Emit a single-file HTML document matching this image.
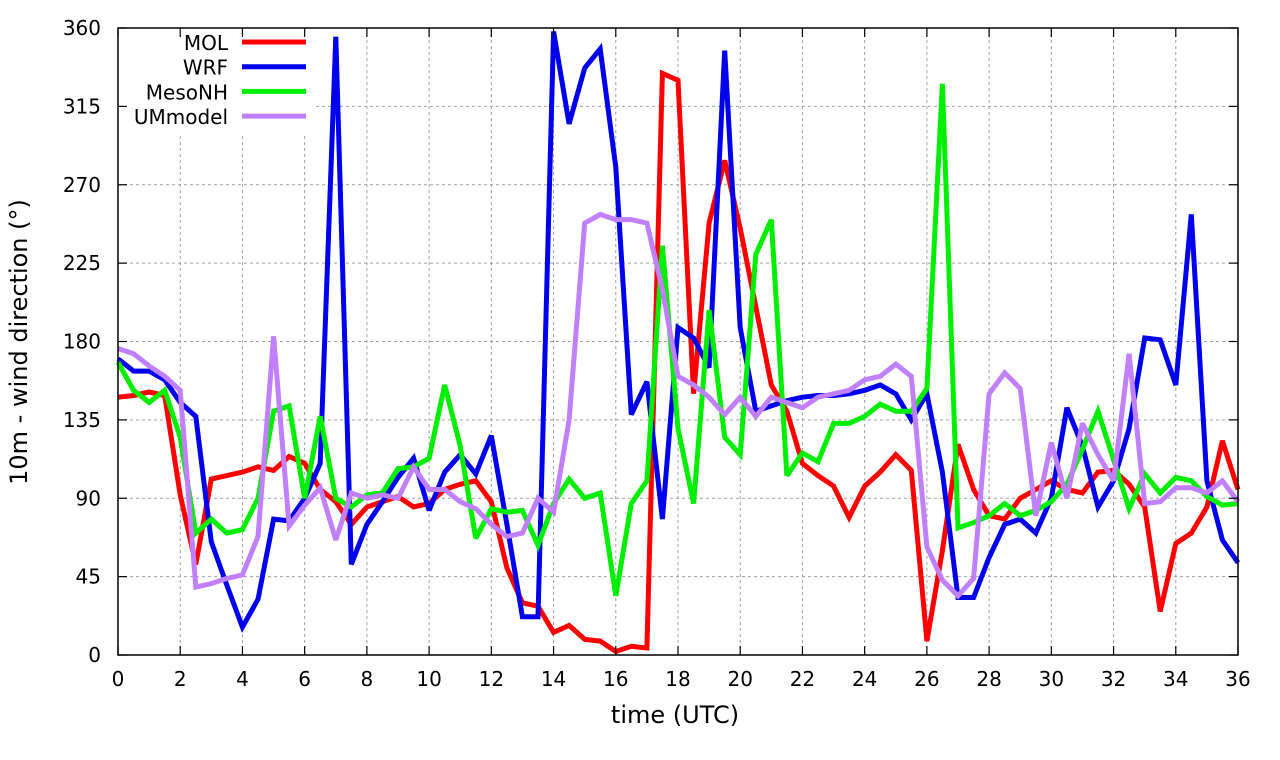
<!DOCTYPE html>
<html><head><meta charset="utf-8"><style>
html,body{margin:0;padding:0;background:#fff;}
svg{display:block;font-family:"DejaVu Sans","Liberation Sans",sans-serif;}
</style></head><body>
<svg id="chart" width="1280" height="760" viewBox="0 0 1280 760" xmlns="http://www.w3.org/2000/svg">
<g id="grid"></g>
<g id="series"></g>
<rect x="119" y="29" width="195" height="106" fill="#fff"/>
<g id="legend"></g>
<rect x="118" y="28" width="1120" height="627" fill="none" stroke="#000" stroke-width="1.5"/>
<g id="ticks"></g>
<text x="675" y="723" font-size="24" text-anchor="middle">time (UTC)</text>
<text transform="translate(27,342) rotate(-90)" font-size="24" text-anchor="middle">10m - wind direction (°)</text>
</svg>
<script>
const seriesNames = ["MOL","WRF","MesoNH","UMmodel"];
const seriesColors = ["#ff0000","#0000ee","#00ee00","#c080ff"];
const xTicks = [0,2,4,6,8,10,12,14,16,18,20,22,24,26,28,30,32,34,36];
const yTicks = [0,45,90,135,180,225,270,315,360];
const mol = [148,149,151,149,92,52,101,103,105,108,106,114,110,95,88,75,85,88,91,85,87,95,98,100,88,50,30,28,13,17,9,8,2,5,4,334,330,150,248,284,245,200,155,140,110,103,97,79,97,105,115,106,8,60,121,95,80,78,90,95,100,95,93,105,106,98,85,25,64,70,85,123,95];
const wrf = [170,163,163,158,145,137,65,40,16,32,78,77,90,110,355,52,75,88,102,113,83,105,115,104,126,75,22,22,358,305,337,348,280,138,157,78,188,182,165,347,188,140,143,146,148,149,149,150,152,155,150,135,150,105,33,33,56,75,78,70,90,142,120,85,100,130,182,181,155,253,100,66,53];
const mesonh = [168,152,145,152,125,70,78,70,72,90,140,143,90,137,90,85,92,93,107,108,113,155,120,67,84,82,83,63,87,101,90,93,34,87,100,235,130,87,198,125,115,230,250,103,116,111,133,133,137,144,140,140,153,328,73,76,80,87,80,83,88,98,118,140,112,84,104,93,102,100,91,86,87];
const um = [176,173,166,160,152,39,41,44,46,68,183,74,86,96,66,93,90,92,90,108,95,95,88,84,75,68,70,90,82,135,248,253,250,250,248,210,160,155,148,138,148,137,148,145,142,148,150,152,158,160,167,160,62,43,34,44,150,162,153,80,122,90,133,115,100,173,87,88,96,96,93,100,88];
const allSeries = [mol,wrf,mesonh,um];
const X0=118,X1=1238,Y0=655,Y1=28;
function sx(t){return X0+(t/36)*(X1-X0);}
function sy(v){return Y0-(v/360)*(Y0-Y1);}
const NS="http://www.w3.org/2000/svg";
function mk(tag,attrs,parent){const e=document.createElementNS(NS,tag);for(const k in attrs)e.setAttribute(k,attrs[k]);parent.appendChild(e);return e;}
const grid=document.getElementById('grid'),ticks=document.getElementById('ticks'),ser=document.getElementById('series'),leg=document.getElementById('legend');
xTicks.forEach(t=>{
  const x=sx(t);
  if(t>0&&t<36){const g=mk('line',{x1:x,x2:x,y1:Y1,y2:Y0,stroke:'#a0a0a0','stroke-dasharray':'3,3','stroke-width':1},grid);
  
  }
  const tk=mk('line',{x1:x,x2:x,y1:Y0,y2:Y0-9,stroke:'#000','stroke-width':1.2},ticks);
  
  
  const tk2=mk('line',{x1:x,x2:x,y1:Y1,y2:Y1+9,stroke:'#000','stroke-width':1.2},ticks);
  
  
  const l=mk('text',{x:x,y:686,'font-size':20,'text-anchor':'middle'},ticks);l.textContent=t;
  
  
});
yTicks.forEach(v=>{
  const y=sy(v);
  if(v>0&&v<360){const g=mk('line',{x1:X0,x2:X1,y1:y,y2:y,stroke:'#a0a0a0','stroke-dasharray':'3,3','stroke-width':1},grid);
  
  }
  const tk=mk('line',{x1:X0,x2:X0+9,y1:y,y2:y,stroke:'#000','stroke-width':1.2},ticks);
  
  
  const tk2=mk('line',{x1:X1-9,x2:X1,y1:y,y2:y,stroke:'#000','stroke-width':1.2},ticks);
  
  
  const l=mk('text',{x:101,y:y+7,'font-size':20,'text-anchor':'end'},ticks);l.textContent=v;
  
  
});
allSeries.forEach((arr,i)=>{
  const pts=arr.map((v,j)=>sx(j*0.5).toFixed(1)+','+sy(v).toFixed(1)).join(' ');
  const p=mk('polyline',{points:pts,fill:'none',stroke:seriesColors[i],'stroke-width':5,'stroke-linejoin':'miter','stroke-miterlimit':3},ser);
  
  
  const y=42+i*24.7;
  const t=mk('text',{x:228,y:y+8,'font-size':20,'text-anchor':'end'},leg);t.textContent=seriesNames[i];
  
  
  const ln=mk('line',{x1:242,x2:306,y1:y,y2:y,stroke:seriesColors[i],'stroke-width':5},leg);
  
  
});
</script>
</body></html>
